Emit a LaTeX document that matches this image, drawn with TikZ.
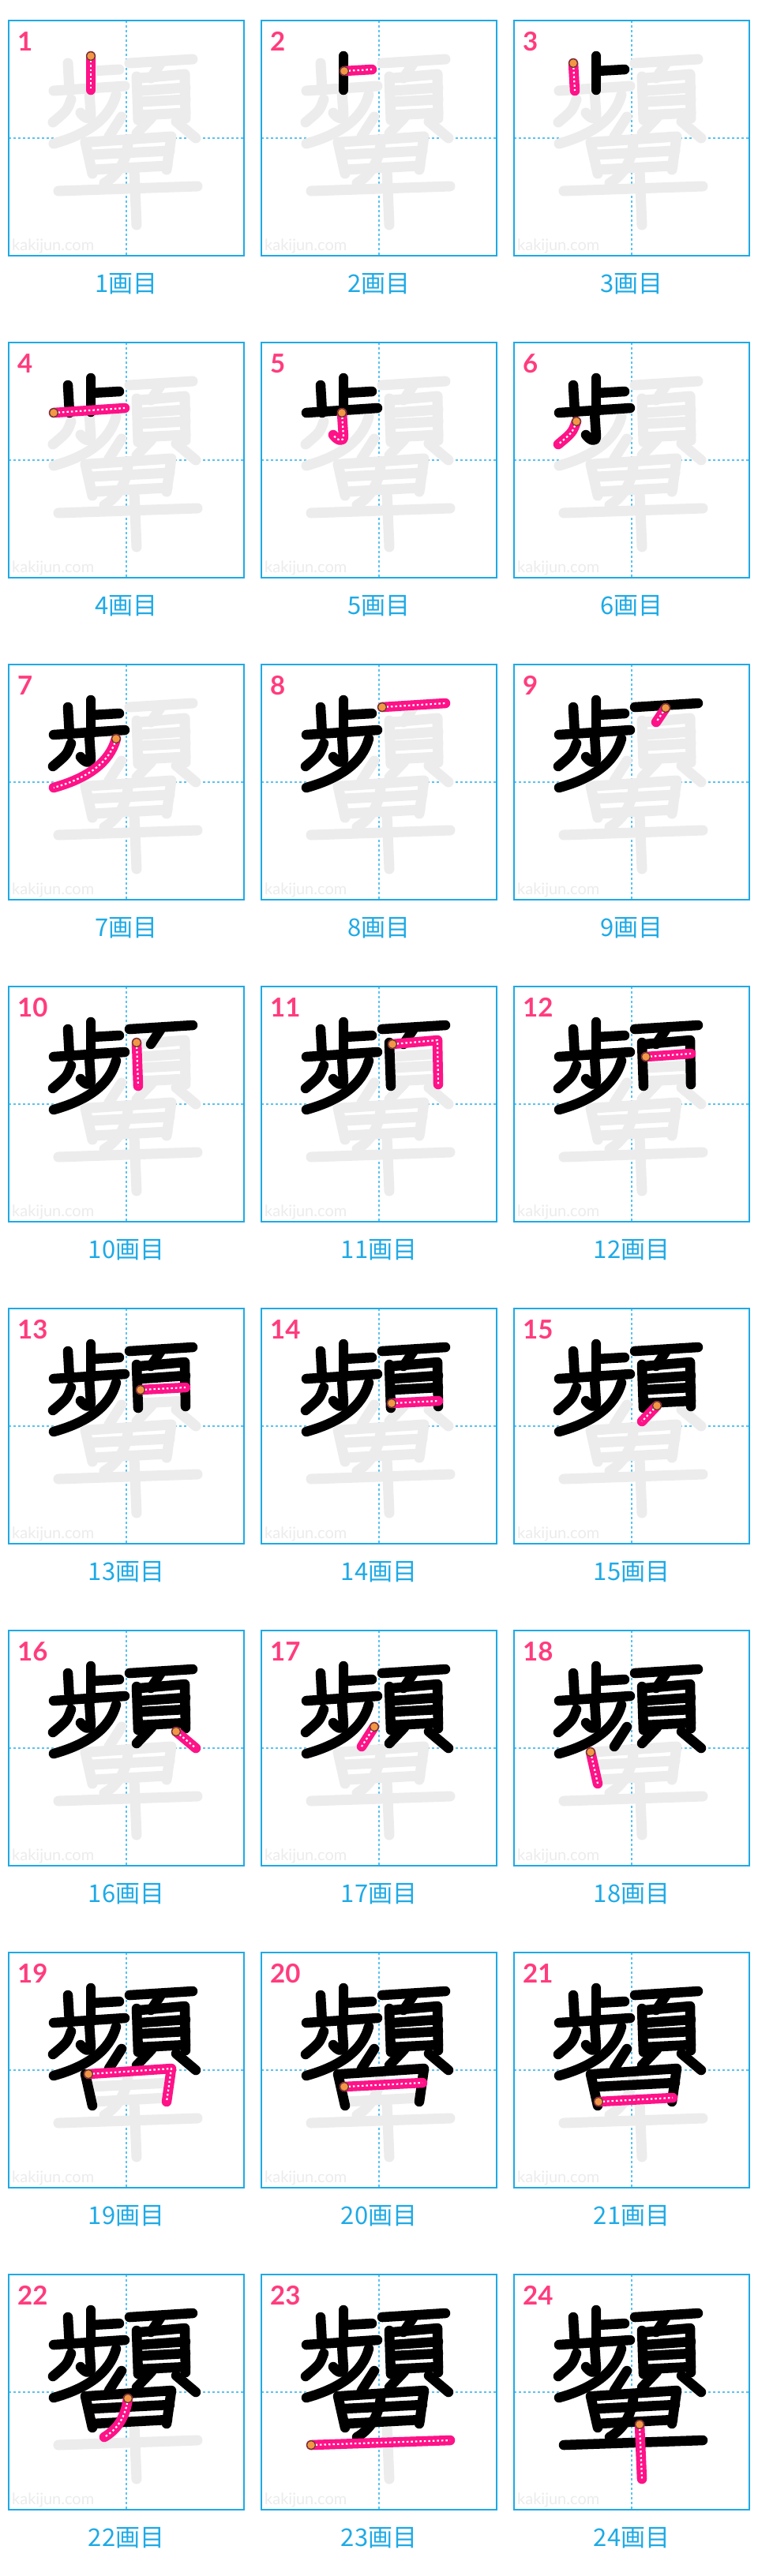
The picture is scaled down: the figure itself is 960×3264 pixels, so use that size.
\documentclass[tikz,border=0pt]{standalone}
\usepackage{fontspec}
\setmainfont{Lato}
\newfontfamily\jpfont{Noto Sans CJK JP}
\usepackage{tikz}
\definecolor{KJblue}{RGB}{30,170,230}
\definecolor{KJguide}{RGB}{90,195,240}
\definecolor{KJpink}{RGB}{255,18,136}
\definecolor{KJrose}{RGB}{255,60,125}
\definecolor{KJorange}{RGB}{245,150,70}
\definecolor{KJrim}{RGB}{90,60,40}
\definecolor{KJghost}{RGB}{236,236,236}

\newcommand\kjstroke[2]{%
  \ifcase#1\or
    \draw[#2] (104,45) coordinate (s) -- (104,88);
  \or
    \draw[#2] (105,64) coordinate (s) -- (140,62);
  \or
    \draw[#2] (75,54) coordinate (s) -- (77,89);
  \or
    \draw[#2] (57,89) coordinate (s) -- (147,83);
  \or
    \draw[#2] (102,89) coordinate (s) -- (104,119) .. controls (104,126) and (97,125) .. (91,117);
  \or
    \draw[#2] (79,100) coordinate (s) .. controls (74,114) .. (56,129);
  \or
    \draw[#2] (136,94) coordinate (s) .. controls (128,124) and (100,144) .. (57,156);
  \or
    \draw[#2] (153,54) coordinate (s) -- (233,49);
  \or
    \draw[#2] (192,55) coordinate (s) -- (180,73);
  \or
    \draw[#2] (162,71) coordinate (s) -- (164,126);
  \or
    \draw[#2] (166,73) coordinate (s) -- (223,68) -- (224,124);
  \or
    \draw[#2] (167,89) coordinate (s) -- (224,85);
  \or
    \draw[#2] (167,103) coordinate (s) -- (224,100);
  \or
    \draw[#2] (165,120) coordinate (s) -- (224,117);
  \or
    \draw[#2] (181,123) coordinate (s) -- (162,143);
  \or
    \draw[#2] (212,128) coordinate (s) -- (237,149);
  \or
    \draw[#2] (143,122) coordinate (s) -- (127,147);
  \or
    \draw[#2] (97,154) coordinate (s) -- (106,194);
  \or
    \draw[#2] (101,154) coordinate (s) -- (206,147) -- (200,189);
  \or
    \draw[#2] (105,170) coordinate (s) -- (204,165);
  \or
    \draw[#2] (107,189) coordinate (s) -- (201,184);
  \or
    \draw[#2] (151,157) coordinate (s) .. controls (148,180) and (138,196) .. (121,206);
  \or
    \draw[#2] (63,216) coordinate (s) -- (239,210);
  \or
    \draw[#2] (159,190) coordinate (s) -- (162,259);
  \fi}

\begin{document}
\begin{tikzpicture}[
    x=1pt, y=-1pt,
    cellframe/.style={draw=KJblue, line width=1.5pt},
    guide/.style={draw=KJguide, line width=1.2pt, dash pattern=on 3pt off 3pt},
    ghost/.style={draw=KJghost, line width=13pt, line cap=round, line join=round},
    ink/.style={draw=black, line width=12.5pt, line cap=round, line join=round},
    pen/.style={draw=KJpink, line width=12.5pt, line cap=round, line join=round},
    pendots/.style={draw=white, line width=2.2pt, dash pattern=on 2.5pt off 3pt, line join=round},
    startdot/.style={fill=KJorange, draw=KJrim, line width=1.2pt},
    num/.style={anchor=base west, inner sep=0pt, text=KJrose, font=\fontsize{33}{33}\selectfont\bfseries},
    caption/.style={anchor=base, inner sep=0pt, text=KJblue, font=\fontsize{31}{31}\selectfont\jpfont},
    site/.style={anchor=base west, inner sep=0pt, text=gray!15, font=\fontsize{20}{20}\selectfont}
  ]
  \fill[white] (0,0) rectangle (960,3264);
  \useasboundingbox (0,0) rectangle (960,3264);

  \foreach \n in {1,...,24} {
    \pgfmathtruncatemacro\col{mod(\n-1,3)}
    \pgfmathtruncatemacro\row{div(\n-1,3)}
    \begin{scope}[shift={(11+320*\col,26+408*\row)}]
      \draw[guide] (149,0) -- (149,298);
      \draw[guide] (0,149) -- (298,149);
      \draw[cellframe] (0,0) rectangle (298,298);
      \node[site] (site-\n) at (4,291) {kakijun.com};
      \node[num] (num-\n) at (11,38) {\n};
      \node[caption] (cap-\n) at (149,344) {\n{}画目};
      \foreach \j in {1,...,24} {\kjstroke{\j}{ghost}}
      \foreach \j in {1,...,\n} {\ifnum\j<\n\relax\kjstroke{\j}{ink}\fi}
      \kjstroke{\n}{pen}
      \kjstroke{\n}{pendots}
      \filldraw[startdot] (s) circle (5.5);
    \end{scope}
  }
\end{tikzpicture}
\end{document}
